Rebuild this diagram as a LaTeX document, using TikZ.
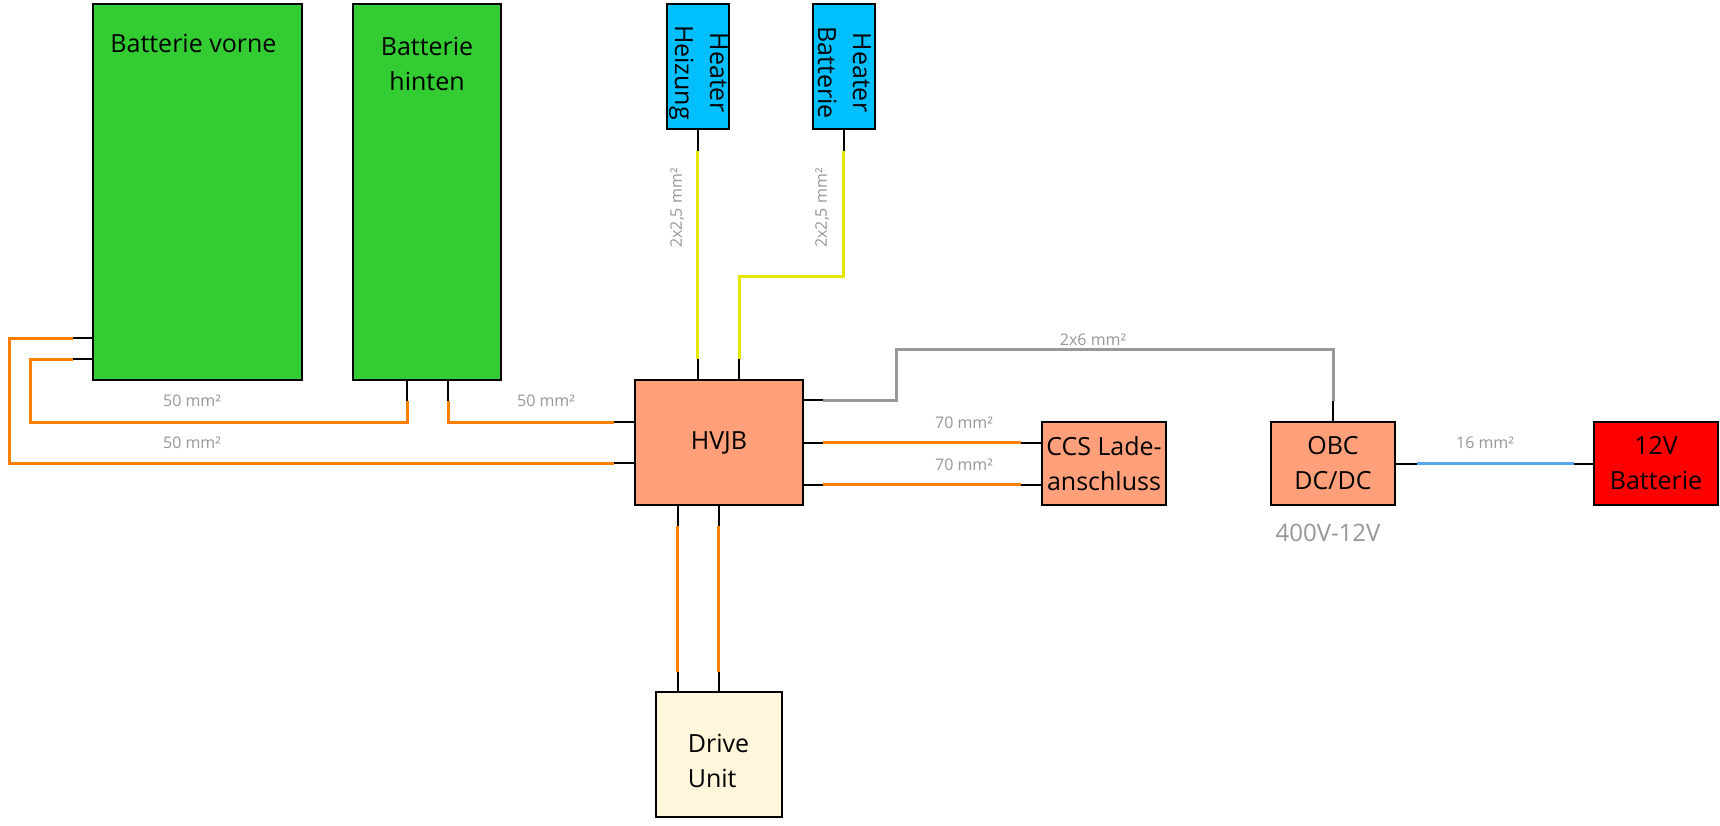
\documentclass[tikz,border=0pt]{standalone}
\usepackage{fontspec}
\setmainfont{Open Sans}
\usepackage{tikz}

\definecolor{battgreen}{RGB}{51,204,51}
\definecolor{heaterblue}{RGB}{0,191,255}
\definecolor{hvsalmon}{RGB}{255,160,122}
\definecolor{ducream}{RGB}{255,246,220}
\definecolor{hvorange}{RGB}{255,128,0}
\definecolor{lvyellow}{RGB}{230,230,0}
\definecolor{lvblue}{RGB}{90,165,240}
\definecolor{wiregray}{RGB}{153,153,153}
\definecolor{lblgray}{RGB}{150,150,150}

\begin{document}
\begin{tikzpicture}[x=1pt,y=-1pt,
  boxtext/.style={font=\fontsize{25}{35}\selectfont},
  box/.style={draw=black, line width=2pt, inner sep=0pt, align=center, boxtext},
  stub/.style={draw=black, line width=2pt},
  hv/.style={draw=hvorange, line width=3pt},
  lv/.style={draw=lvyellow, line width=3pt},
  gw/.style={draw=wiregray, line width=3pt},
  bw/.style={draw=lvblue, line width=3pt},
  cs/.style={font=\fontsize{16}{18}\selectfont, text=lblgray, inner sep=0pt}]
\useasboundingbox (0,0) rectangle (1720,826);

% Komponenten
\node [box, fill=battgreen, minimum width=209pt, minimum height=376pt,
  label={[boxtext, anchor=center, xshift=-4pt, yshift=-40pt]north:Batterie vorne}] (bv) at (197.5,192) {};
\node [box, fill=battgreen, minimum width=148pt, minimum height=376pt,
  label={[boxtext, align=center, anchor=center, yshift=-61pt]north:Batterie\\hinten}] (bh) at (427,192) {};
\node [box, fill=heaterblue, minimum width=62pt, minimum height=125pt,
  label={[boxtext, align=center, anchor=center, rotate=-90, xshift=6pt, yshift=1pt]center:Heater\\Heizung}] (hz) at (697.5,66.5) {};
\node [box, fill=heaterblue, minimum width=62pt, minimum height=125pt,
  label={[boxtext, align=center, anchor=center, rotate=-90, xshift=6pt, yshift=1pt]center:Heater\\Batterie}] (hb) at (843.5,66.5) {};
\node [box, fill=hvsalmon, minimum width=168pt, minimum height=125pt] (hvjb) at (719,442.5) {HVJB};
\node [box, fill=hvsalmon, minimum width=124pt, minimum height=83pt] (ccs) at (1104,463.5) {CCS Lade-\\anschluss};
\node [box, fill=hvsalmon, minimum width=124pt, minimum height=83pt] (obc) at (1333,463.5) {OBC\\DC/DC};
\node [box, fill=red, minimum width=124pt, minimum height=83pt] (lvb) at (1656,463.5) {12V\\Batterie};
\node [box, fill=ducream, minimum width=126pt, minimum height=125pt,
  label={[boxtext, align=left, anchor=center, yshift=-6pt]center:Drive\\Unit}] (du) at (718.5,754.5) {};
\node [font=\fontsize{24}{28}\selectfont, text=lblgray, inner sep=0pt] (obcv) at (1328,533) {400V-12V};

% Batterie vorne -> HVJB
\draw [stub] ([yshift=-146pt]bv.west) -- ++(-19,0) coordinate (a1);
\draw [stub] ([yshift=-20.5pt]hvjb.west) -- ++(-20,0) coordinate (a2);
\draw [hv] (a1) -| (9,463) -- (a2);
\draw [stub] ([yshift=-167pt]bv.west) -- ++(-19,0) coordinate (b1);
\draw [stub] ([xshift=-20pt]bh.south) -- ++(0,20) coordinate (b2);
\draw [hv] (b1) -| (30,422) -| (b2);
% Batterie hinten -> HVJB
\draw [stub] ([xshift=21pt]bh.south) -- ++(0,20) coordinate (c1);
\draw [stub] ([yshift=20.5pt]hvjb.west) -- ++(-20,0) coordinate (c2);
\draw [hv] (c1) |- (c2);
\node [cs] (l50a) at (192,401) {50 mm²};
\node [cs] (l50b) at (546,401) {50 mm²};
\node [cs] (l50c) at (192,443) {50 mm²};

% Heater
\draw [stub] (hz.south) -- ++(0,21) coordinate (d1);
\draw [stub] ([xshift=-21.5pt]hvjb.north) -- ++(0,-20) coordinate (d2);
\draw [lv] (d1) -- (d2);
\draw [stub] (hb.south) -- ++(0,21) coordinate (e1);
\draw [stub] ([xshift=20pt]hvjb.north) -- ++(0,-20) coordinate (e2);
\draw [lv] (e1) -- ++(0,125) -| (e2);
\node [cs, rotate=90] (l25a) at (677,208) {2x2,5 mm²};
\node [cs, rotate=90] (l25b) at (822,208) {2x2,5 mm²};

% HVJB -> OBC
\draw [stub] ([yshift=42.5pt]hvjb.east) -- ++(19,0) coordinate (f1);
\draw [stub] (obc.north) -- ++(0,-20) coordinate (f2);
\draw [gw] (f1) -| (896,349) -| (f2);
\node [cs] (l6) at (1093,340) {2x6 mm²};

% HVJB -> CCS
\draw [stub] (hvjb.east) -- ++(19,0) coordinate (g1);
\draw [stub] ([yshift=21pt]ccs.west) -- ++(-20,0) coordinate (g2);
\draw [hv] (g1) -- (g2);
\draw [stub] ([yshift=-42pt]hvjb.east) -- ++(19,0) coordinate (g3);
\draw [stub] ([yshift=-21pt]ccs.west) -- ++(-20,0) coordinate (g4);
\draw [hv] (g3) -- (g4);
\node [cs] (l70a) at (964,423) {70 mm²};
\node [cs] (l70b) at (964,465) {70 mm²};

% OBC -> 12V
\draw [stub] (obc.east) -- ++(21,0) coordinate (h1);
\draw [stub] (lvb.west) -- ++(-19,0) coordinate (h2);
\draw [bw] (h1) -- (h2);
\node [cs] (l16) at (1485,443) {16 mm²};

% HVJB -> Drive Unit
\draw [stub] ([xshift=-41.5pt]hvjb.south) -- ++(0,20) coordinate (i1);
\draw [stub] ([xshift=-41pt]du.north) -- ++(0,-19) coordinate (i2);
\draw [hv] (i1) -- (i2);
\draw [stub] ([xshift=-0.5pt]hvjb.south) -- ++(0,20) coordinate (i3);
\draw [stub] (du.north) -- ++(0,-19) coordinate (i4);
\draw [hv] (i3) -- (i4);
\end{tikzpicture}
\end{document}
